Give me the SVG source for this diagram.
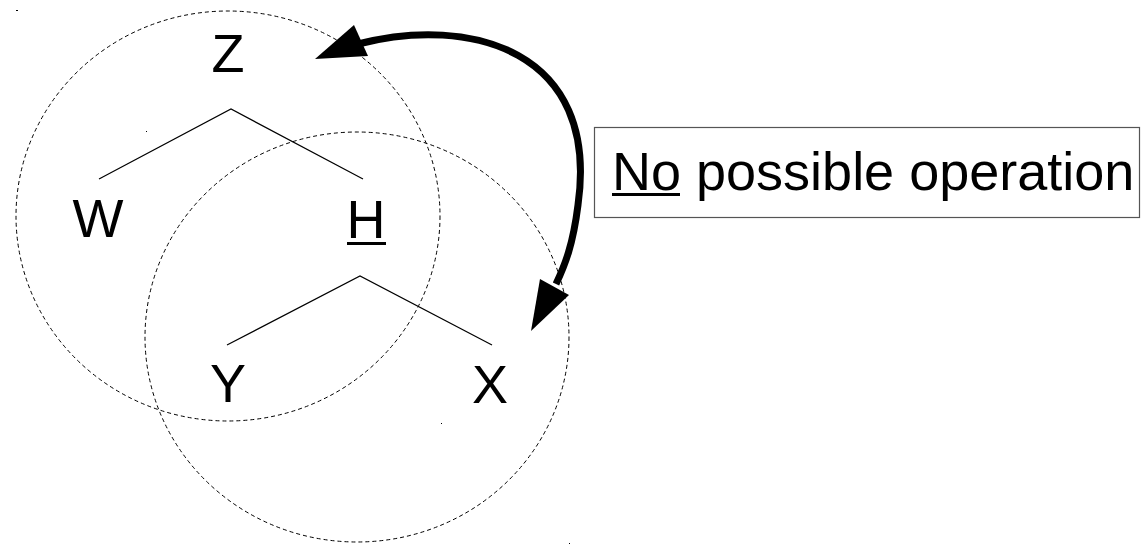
<svg xmlns="http://www.w3.org/2000/svg" width="1141" height="544" viewBox="0 0 1141 544">
<style>
.t{font-family:"Liberation Sans",Arial,sans-serif;font-size:54px;fill:#000;text-anchor:middle}
.c{fill:none;stroke:#000;stroke-width:1;stroke-dasharray:4 3}
.e{fill:none;stroke:#000;stroke-width:1.2}
</style>
<rect width="1141" height="544" fill="#fff"/>
<g id="scopes">
<ellipse class="c" cx="228" cy="216" rx="212" ry="205"/>
<ellipse class="c" cx="357" cy="337" rx="212" ry="205"/>
</g>
<g id="connectors">
<polyline class="e" points="99,179 231,109 363,179"/>
<polyline class="e" points="227,345 360,276 492,345"/>
<path d="M358 44 C 470 15, 600 50, 578 205 C 573 245, 565 265, 556 284" fill="none" stroke="#000" stroke-width="7"/>
<polygon points="315,59 354,25 368,56" fill="#000"/>
<polygon points="531,331 540,279 569,295" fill="#000"/>
</g>
<g id="node-Z"><text class="t" x="228" y="72">Z</text></g>
<g id="node-W"><text class="t" x="98" y="237">W</text></g>
<g id="node-H"><text class="t" x="366" y="238">H</text><rect x="347" y="242" width="39" height="3" fill="#000"/></g>
<g id="node-Y"><text class="t" x="228" y="402">Y</text></g>
<g id="node-X"><text class="t" x="490" y="403">X</text></g>
<g id="note">
<rect x="594.5" y="127.5" width="545" height="90" fill="none" stroke="#555" stroke-width="1.2"/>
<text class="t" x="612" y="190" style="text-anchor:start">No possible operation</text>
<rect x="612" y="193" width="68" height="3" fill="#000"/>
</g>
<g id="marks" fill="#000">
<rect x="16" y="10" width="2" height="1"/>
<rect x="146" y="131" width="1" height="1"/>
<rect x="441" y="423" width="1" height="1"/>
<rect x="569" y="543" width="1" height="1"/>
</g>
</svg>
